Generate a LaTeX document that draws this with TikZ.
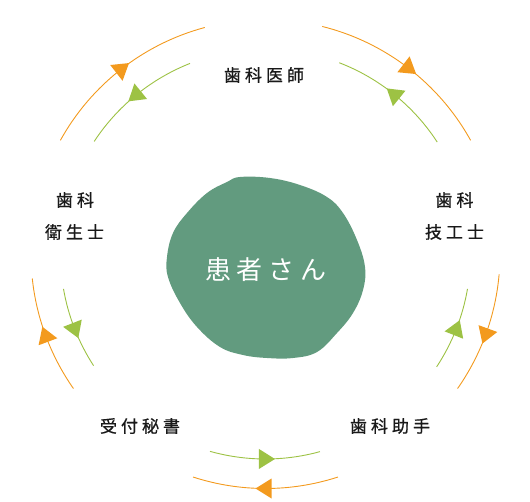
\documentclass[tikz,border=0pt]{standalone}
\usepackage{fontspec}
\newfontfamily\jp[FakeBold=0.8]{Noto Sans CJK JP}
\newfontfamily\jpl{Noto Sans CJK JP}
\usetikzlibrary{decorations.markings}
\definecolor{orng}{HTML}{F39A1E}
\definecolor{grn}{HTML}{9DC244}
\definecolor{blobc}{HTML}{629B7F}
\newcommand{\ks}{\kern4pt}
\newcommand{\kb}{\kern6pt}
\begin{document}
\begin{tikzpicture}[x=1pt,y=1pt,
  lbl/.style={font=\jp\fontsize{17}{20}\selectfont, text=black!90, inner sep=0pt},
  outerarc/.style={draw=orng, line width=0.9pt, postaction={decorate},
    decoration={markings, mark=at position 0.5 with {\fill[orng] (10pt,0pt) -- (-6pt,10pt) -- (-6pt,-10pt) -- cycle;}}},
  innerarc/.style={draw=grn, line width=0.9pt, postaction={decorate},
    decoration={markings, mark=at position 0.5 with {\fill[grn] (10pt,0pt) -- (-6pt,10pt) -- (-6pt,-10pt) -- cycle;}}}
]
\useasboundingbox (0,0) rectangle (530,501);
\coordinate (C) at (265.5,247);

% patient blob
\fill[blobc] plot[smooth cycle, tension=0.65] coordinates {
  (240,324) (270,323) (300,316) (327,304) (343,288) (357,261) (365,234)
  (363,211) (353,188) (337,168) (317,149) (293,143) (267,143) (243,146)
  (220,154) (197,174) (180,198) (168,224) (167,244) (173,268) (187,288)
  (207,308) (227,319)};
\node[font=\jpl\fontsize{26}{30}\selectfont, text=white, inner sep=0pt] (patient) at (266,231) {患\kb 者\kb さ\kb ん};

% labels
\node[lbl] (dentist) at (264,426) {歯\ks 科\ks 医\ks 師};
\node[lbl] (hyg1) at (75,301) {歯\ks 科};
\node[lbl] (hyg2) at (74.5,269) {衛\ks 生\ks 士};
\node[lbl] (tech1) at (454.5,301) {歯\ks 科};
\node[lbl] (tech2) at (454.5,269) {技\ks 工\ks 士};
\node[lbl] (recep) at (140,75) {受\ks 付\ks 秘\ks 書};
\node[lbl] (assist) at (390,75) {歯\ks 科\ks 助\ks 手};

% outer (orange, clockwise)
\path[outerarc] ([shift={(151:234.5)}]C) arc[start angle=151, end angle=105, radius=234.5];
\path[outerarc] ([shift={(76:234.5)}]C) arc[start angle=76, end angle=29, radius=234.5];
\path[outerarc] ([shift={(-5:234.5)}]C) arc[start angle=-5, end angle=-35, radius=234.5];
\path[outerarc] ([shift={(-72:234.5)}]C) arc[start angle=-72, end angle=-108, radius=234.5];
\path[outerarc] ([shift={(215:234.5)}]C) arc[start angle=215, end angle=186, radius=234.5];

% inner (green, counter-clockwise)
\path[innerarc] ([shift={(111.6:205)}]C) arc[start angle=111.6, end angle=146.7, radius=205];
\path[innerarc] ([shift={(33.1:205)}]C) arc[start angle=33.1, end angle=68.9, radius=205];
\path[innerarc] ([shift={(-33.4:205)}]C) arc[start angle=-33.4, end angle=-9.8, radius=205];
\path[innerarc] ([shift={(-105.7:205)}]C) arc[start angle=-105.7, end angle=-74.6, radius=205];
\path[innerarc] ([shift={(189.8:205)}]C) arc[start angle=189.8, end angle=213, radius=205];
\end{tikzpicture}
\end{document}
